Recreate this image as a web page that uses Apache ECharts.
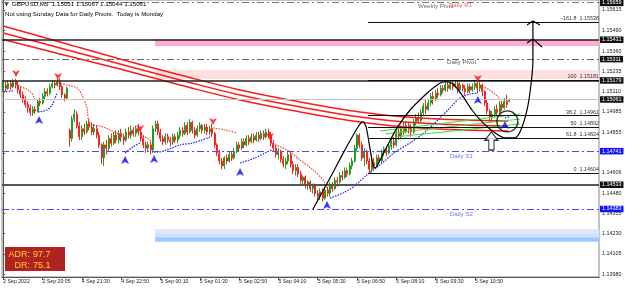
<!DOCTYPE html>
<html><head><meta charset="utf-8">
<script src="https://cdn.jsdelivr.net/npm/echarts@6/dist/echarts.min.js"></script>
<style>html,body{margin:0;padding:0;background:#fff}#c{width:625px;height:289px}</style>
</head><body><div id="c"></div>
<script>
// ---------------- data ----------------
const symbolName = 'GBPUSD,M5';
const tickLabels = ['2 Sep 2022','2 Sep 20:05','4 Sep 21:30','4 Sep 22:50','5 Sep 00:10','5 Sep 01:30','5 Sep 02:50','5 Sep 04:10','5 Sep 05:30','5 Sep 06:50','5 Sep 08:10','5 Sep 09:30','5 Sep 10:50'];
const barsPerLabel = 16;
const axisTicks = [1.13980,1.14105,1.14230,1.14355,1.14480,1.14606,1.14730,1.14855,1.14985,1.15110,1.15235,1.15360,1.15490,1.15615];
// [open, close, low, high]
const candles = [
[1.1513,1.1515,1.1511,1.1517],[1.1515,1.1513,1.1511,1.1517],[1.1513,1.1516,1.1512,1.1518],[1.1516,1.1514,1.1512,1.1518],
[1.1514,1.1517,1.1513,1.1519],[1.1517,1.1515,1.1513,1.1519],[1.1515,1.1512,1.1510,1.1517],[1.1512,1.1509,1.1507,1.1514],
[1.1509,1.1506,1.1504,1.1511],[1.1506,1.1503,1.1501,1.1508],[1.1503,1.1501,1.1498,1.1505],[1.1501,1.1498,1.1496,1.1503],
[1.1498,1.1500,1.1496,1.1502],[1.1500,1.1499,1.1497,1.1502],[1.1499,1.1505,1.1498,1.1506],[1.1505,1.1504,1.1502,1.1507],
[1.1504,1.1508,1.1503,1.1510],[1.1508,1.1511,1.1506,1.1513],[1.1511,1.1510,1.1508,1.1513],[1.1510,1.1514,1.1509,1.1516],
[1.1514,1.1516,1.1513,1.1518],[1.1516,1.1515,1.1513,1.1518],[1.1515,1.1517,1.1514,1.1519],[1.1517,1.1514,1.1512,1.1519],
[1.1514,1.1509,1.1507,1.1515],[1.1509,1.1507,1.1505,1.1510],[1.1507,1.1513,1.1506,1.1514],[1.1487,1.1482,1.1477,1.1488],
[1.1482,1.1494,1.1480,1.1496],[1.1494,1.1497,1.1492,1.1500],[1.1497,1.1490,1.1488,1.1499],[1.1490,1.1483,1.1481,1.1492],
[1.1483,1.1488,1.1481,1.1490],[1.1488,1.1486,1.1484,1.1491],[1.1486,1.1491,1.1485,1.1493],[1.1491,1.1489,1.1487,1.1494],
[1.1489,1.1486,1.1484,1.1492],[1.1486,1.1488,1.1484,1.1491],[1.1488,1.1484,1.1482,1.1490],[1.1484,1.1478,1.1476,1.1486],
[1.1478,1.1470,1.1466,1.1479],[1.1470,1.1478,1.1465,1.1480],[1.1478,1.1476,1.1472,1.1481],[1.1476,1.1482,1.1474,1.1484],
[1.1482,1.1479,1.1477,1.1485],[1.1479,1.1484,1.1478,1.1486],[1.1484,1.1481,1.1479,1.1487],[1.1481,1.1485,1.1479,1.1487],
[1.1485,1.1483,1.1480,1.1488],[1.1483,1.1481,1.1478,1.1485],[1.1481,1.1486,1.1480,1.1488],[1.1486,1.1484,1.1482,1.1489],
[1.1484,1.1487,1.1482,1.1490],[1.1487,1.1485,1.1483,1.1489],[1.1485,1.1488,1.1483,1.1490],[1.1488,1.1486,1.1484,1.1491],
[1.1486,1.1482,1.1480,1.1488],[1.1482,1.1478,1.1476,1.1484],[1.1478,1.1476,1.1473,1.1480],[1.1476,1.1478,1.1474,1.1480],
[1.1478,1.1475,1.1472,1.1480],[1.1475,1.1488,1.1473,1.1490],[1.1488,1.1491,1.1486,1.1493],[1.1491,1.1486,1.1484,1.1493],
[1.1486,1.1482,1.1480,1.1488],[1.1482,1.1480,1.1478,1.1484],[1.1480,1.1483,1.1478,1.1485],[1.1483,1.1481,1.1479,1.1485],
[1.1481,1.1480,1.1477,1.1483],[1.1480,1.1483,1.1478,1.1485],[1.1483,1.1481,1.1479,1.1485],[1.1481,1.1484,1.1479,1.1486],
[1.1484,1.1487,1.1482,1.1489],[1.1487,1.1485,1.1483,1.1489],[1.1485,1.1490,1.1484,1.1492],[1.1490,1.1486,1.1484,1.1492],
[1.1486,1.1492,1.1485,1.1494],[1.1492,1.1487,1.1485,1.1493],[1.1487,1.1484,1.1482,1.1489],[1.1484,1.1488,1.1483,1.1490],
[1.1488,1.1490,1.1486,1.1492],[1.1490,1.1487,1.1485,1.1491],[1.1487,1.1489,1.1485,1.1491],[1.1489,1.1486,1.1484,1.1491],
[1.1486,1.1488,1.1484,1.1490],[1.1488,1.1485,1.1483,1.1491],[1.1485,1.1478,1.1476,1.1486],[1.1478,1.1473,1.1471,1.1479],
[1.1473,1.1468,1.1466,1.1475],[1.1468,1.1465,1.1463,1.1470],[1.1465,1.1470,1.1463,1.1471],[1.1470,1.1468,1.1466,1.1472],
[1.1468,1.1472,1.1467,1.1474],[1.1472,1.1470,1.1468,1.1474],[1.1470,1.1474,1.1469,1.1476],[1.1474,1.1478,1.1473,1.1480],
[1.1478,1.1476,1.1474,1.1480],[1.1476,1.1480,1.1475,1.1482],[1.1480,1.1478,1.1476,1.1482],[1.1478,1.1482,1.1477,1.1484],
[1.1482,1.1480,1.1478,1.1484],[1.1480,1.1483,1.1479,1.1485],[1.1483,1.1481,1.1479,1.1485],[1.1481,1.1484,1.1480,1.1486],
[1.1484,1.1482,1.1480,1.1486],[1.1482,1.1485,1.1481,1.1487],[1.1485,1.1483,1.1481,1.1487],[1.1483,1.1486,1.1482,1.1488],
[1.1486,1.1484,1.1482,1.1488],[1.1484,1.1479,1.1477,1.1486],[1.1479,1.1476,1.1474,1.1481],[1.1476,1.1472,1.1470,1.1478],
[1.1472,1.1474,1.1469,1.1476],[1.1474,1.1469,1.1467,1.1475],[1.1469,1.1466,1.1464,1.1471],[1.1466,1.1468,1.1463,1.1470],
[1.1468,1.1472,1.1466,1.1474],[1.1472,1.1466,1.1464,1.1474],[1.1466,1.1462,1.1460,1.1468],[1.1462,1.1464,1.1459,1.1466],
[1.1464,1.1460,1.1458,1.1466],[1.1460,1.1456,1.1454,1.1462],[1.1456,1.1458,1.1453,1.1459],[1.1458,1.1453,1.1451,1.1459],
[1.1453,1.1455,1.1450,1.1456],[1.1455,1.1451,1.1449,1.1456],[1.1451,1.1453,1.1448,1.1454],[1.1453,1.1448,1.1446,1.1454],
[1.1448,1.1446,1.1443,1.1450],[1.1446,1.1449,1.1444,1.1451],[1.1449,1.1445,1.1443,1.1451],[1.1445,1.1450,1.1444,1.1452],
[1.1450,1.1448,1.1446,1.1452],[1.1448,1.1453,1.1446,1.1455],[1.1453,1.1451,1.1449,1.1455],[1.1451,1.1456,1.1450,1.1458],
[1.1456,1.1455,1.1452,1.1458],[1.1455,1.1459,1.1454,1.1461],[1.1459,1.1458,1.1456,1.1462],[1.1458,1.1462,1.1457,1.1464],
[1.1462,1.1460,1.1458,1.1464],[1.1460,1.1465,1.1459,1.1467],[1.1465,1.1468,1.1463,1.1470],[1.1468,1.1476,1.1467,1.1478],
[1.1476,1.1484,1.1474,1.1485],[1.1484,1.1478,1.1476,1.1485],[1.1478,1.1470,1.1468,1.1480],[1.1470,1.1474,1.1465,1.1476],
[1.1474,1.1468,1.1466,1.1475],[1.1468,1.1463,1.14604,1.1470],[1.1463,1.1467,1.1461,1.1469],[1.1467,1.1465,1.1463,1.1470],
[1.1465,1.1470,1.1464,1.1472],[1.1470,1.1468,1.1466,1.1472],[1.1468,1.1473,1.1467,1.1475],[1.1473,1.1475,1.1471,1.1477],
[1.1475,1.1473,1.1471,1.1477],[1.1473,1.1477,1.1472,1.1479],[1.1477,1.1480,1.1475,1.1482],[1.1480,1.1478,1.1476,1.1483],
[1.1478,1.1485,1.1477,1.1487],[1.1485,1.1483,1.1481,1.1488],[1.1483,1.1488,1.1482,1.1490],[1.1488,1.1486,1.1484,1.1492],
[1.1486,1.1490,1.1485,1.1493],[1.1490,1.1488,1.1485,1.1492],[1.1488,1.1486,1.1483,1.1491],[1.1486,1.1492,1.1485,1.1494],
[1.1492,1.1495,1.1490,1.1497],[1.1495,1.1493,1.1491,1.1498],[1.1493,1.1498,1.1492,1.1500],[1.1498,1.1502,1.1496,1.1504],
[1.1502,1.1500,1.1497,1.1506],[1.1500,1.1504,1.1499,1.1506],[1.1504,1.1508,1.1502,1.1510],[1.1508,1.1506,1.1503,1.1511],
[1.1506,1.1510,1.1505,1.1512],[1.1510,1.1509,1.1507,1.1513],[1.1509,1.1513,1.1508,1.1515],[1.1513,1.1512,1.1510,1.1515],
[1.1512,1.1515,1.1511,1.1517],[1.1515,1.1513,1.1511,1.1517],[1.1513,1.1516,1.1512,1.1518],[1.1516,1.1514,1.1512,1.1517],
[1.1514,1.1516,1.1513,1.1518],[1.1516,1.1512,1.1510,1.15181],[1.1512,1.1515,1.1510,1.1517],[1.1515,1.1513,1.1511,1.1516],
[1.1513,1.1511,1.1509,1.1515],[1.1511,1.1514,1.1510,1.1516],[1.1514,1.1512,1.1510,1.1516],[1.1512,1.1514,1.1511,1.1516],
[1.1514,1.1516,1.1512,1.1518],[1.1516,1.1513,1.1510,1.1518],[1.1513,1.1515,1.1511,1.1517],[1.1515,1.1511,1.1508,1.1516],
[1.1511,1.1504,1.1502,1.1512],[1.1504,1.1499,1.1497,1.1506],[1.1499,1.1495,1.1492,1.1500],[1.1495,1.1497,1.1492,1.1499],
[1.1497,1.1500,1.1495,1.1502],[1.1500,1.1498,1.1496,1.1503],[1.1498,1.1503,1.1497,1.1505],[1.1503,1.1501,1.1499,1.1505],
[1.1501,1.1505,1.1500,1.1507],[1.1505,1.1503,1.1501,1.1509],[1.15051,1.15061,1.15044,1.15067]
];
// moving-average envelope (bar index, price)
const maUpper  = [[0,1.15516],[23.1,1.15417],[47.5,1.15312],[72,1.15213],[96.4,1.15120],[120.8,1.15046],[145.2,1.14984],[169.6,1.14947],[205.5,1.14928]];
const maMiddle = [[0,1.15473],[23.1,1.15380],[47.5,1.15281],[72,1.15182],[96.4,1.15089],[120.8,1.15015],[145.2,1.14953],[169.6,1.14916],[205.5,1.14897]];
const maLower  = [[0,1.15432],[23.1,1.15343],[47.5,1.15250],[72,1.15151],[96.4,1.15058],[120.8,1.14984],[145.2,1.14922],[169.6,1.14885],[205.5,1.14866]];
// trailing stop indicator segments
const trailDown = [
 [[5.2,1.1518],[6,1.15151],[10.1,1.15120],[12.1,1.15089],[12.9,1.15058]],
 [[22.3,1.15163],[26,1.15151],[30,1.15132],[32,1.15089],[34.1,1.15008],[34.9,1.14922],[36.5,1.14903],[39.4,1.14897],[43.5,1.14872],[47.5,1.14841]],
 [[55.7,1.14841],[58.5,1.14823],[60.6,1.14798]],
 [[85.4,1.14885],[90.3,1.14872],[95.1,1.14854]],
 [[108.6,1.14792],[115.5,1.14749],[120.8,1.14687],[126.1,1.14625],[130.1,1.14563],[132.2,1.14501]],
 [[194,1.15151],[198,1.15120],[201.4,1.15077],[203.4,1.15027]]
];
const trailUp = [
 [[0,1.15108],[4,1.15114]],
 [[14.2,1.14984],[17.8,1.14996],[19.9,1.15027],[21.1,1.15070],[21.9,1.15101]],
 [[49.6,1.14730],[52.8,1.14767],[55.7,1.14792]],
 [[61.4,1.14736],[62.6,1.14736],[66.7,1.14749],[72,1.14780],[77.2,1.14792],[84.2,1.14829]],
 [[96.4,1.14668],[102.5,1.14699],[107.4,1.14736],[109.4,1.14749]],
 [[133,1.14451],[138.3,1.14482],[142.4,1.14519],[148,1.14594],[153.4,1.14656],[159.5,1.14736],[165.6,1.14792],[171.7,1.14860],[177.8,1.14947],[181.8,1.15008],[185.9,1.15070],[190,1.15095],[193.2,1.15101]],
 [[204.2,1.14947],[206,1.14953]]
];
const buySignals  = [[14.6,1.14978],[49.6,1.14730],[61.4,1.14736],[96.4,1.14656],[131.8,1.14451],[193.2,1.15101],[204.2,1.14947]];
const sellSignals = [[5.2,1.15182],[22.3,1.15163],[55.7,1.14841],[85.4,1.14885],[108.6,1.14792],[193.2,1.15151]];
const channelLines = [
 [[153.4,1.14866],[210.3,1.14971]],
 [[155.4,1.14848],[210.3,1.14940]],
 [[159.5,1.14829],[210.3,1.14909]]
];
const guideLine = [[149.3,1.14718],[167.6,1.14854]];
// hand-drawn annotation (bar index, price)
const sketchPath = [[126.1,1.14383],[133,1.14575],[139.1,1.14749],[144.4,1.14891],[146.4,1.14922],[147.7,1.14891],[148.9,1.14792],[150.5,1.14656],[151.3,1.14637],[155.4,1.14749],[160.3,1.14885],[165.6,1.14996],[171.7,1.15089],[176.6,1.15151],[179.8,1.15171],[183.1,1.15157],[186.7,1.15089],[190.8,1.14996],[195.3,1.14916],[200.2,1.14854],[204.2,1.14823],[208.3,1.14823],[210.7,1.14872],[213.2,1.14996],[214.8,1.15151],[215.6,1.15306],[215.6,1.15547]];
const sketchHead1 = [[213.2,1.15522],[215.6,1.15547],[218.5,1.15522]];
const sketchHead2 = [[213.2,1.15411],[215.6,1.15436],[219.3,1.15386]];
const sketchCircle = [205.2,1.14925];
const sketchArrow = [198.7,1.14804];
// levels
const weeklyPivot = 1.15664;
const dailyR1 = 1.15659;
const dailyPivot = 1.15311;
const dailyS1 = 1.14741;
const dailyS2 = 1.14383;
const srLevels = [1.15431, 1.15179];
const supportLevel = 1.14533;
const currentPrice = 1.15061;
const fibStartBar = 148.5;
const fibLevels = [['-161.8',1.15538],['100',1.15181],['38.2',1.14961],['50',1.14892],['61.8',1.14824],['0',1.14604]];
const zoneStartBar = 61.8;
const pinkZone = [1.15431, 1.15392];
const lightPinkZone = [1.15244, 1.15188];
const blueZones = [[1.14259,1.14233],[1.14233,1.14208],[1.14208,1.14181]];
const darkTags = [1.15659, 1.15431, 1.15311, 1.15179, 1.15061, 1.14533];
const blueTags = [1.14741, 1.14383];
const adrValue = 97.7, drValue = 75.1;

// ---------------- chart ----------------
const N = 243;
const FONT = '"Liberation Sans", Arial, sans-serif';
const cats = Array.from({length: N}, (_, i) => String(i));
const showTick = (i) => i % barsPerLabel === 0 && i / barsPerLabel < tickLabels.length;
const DASHDOT = [7, 3, 2, 3];
const last = candles[candles.length - 1];
const X0 = -0.5, X1 = N - 0.5;

function ov(extra) {
  return Object.assign({type: 'line', xAxisIndex: 1, yAxisIndex: 0, showSymbol: false, symbol: 'none', silent: true, animation: false}, extra);
}
const series = [];

// zones
const zoneArea = [
  [{xAxis: zoneStartBar, yAxis: pinkZone[0], itemStyle: {color: '#ffa9d3'}}, {xAxis: X1, yAxis: pinkZone[1]}],
  [{xAxis: zoneStartBar, yAxis: lightPinkZone[0], itemStyle: {color: '#ffdfdf'}}, {xAxis: X1, yAxis: lightPinkZone[1]}]
];
const blueCols = ['#e6e6fb', '#c9e5ff', '#9bcbff'];
blueZones.forEach((z, k) => zoneArea.push([{xAxis: zoneStartBar, yAxis: z[0], itemStyle: {color: blueCols[k]}}, {xAxis: X1, yAxis: z[1]}]));

// horizontal levels
const hline = (v, lineStyle, label, from) => [
  {xAxis: from === undefined ? X0 : from, yAxis: v, lineStyle: lineStyle, label: label || {show: false}},
  {xAxis: X1, yAxis: v}
];
const lines = [];
lines.push(hline(weeklyPivot, {color: '#777', width: 1, type: DASHDOT}));
lines.push(hline(dailyPivot, {color: '#666', width: 1, type: DASHDOT}));
lines.push(hline(dailyS1, {color: '#4a4aff', width: 1, type: DASHDOT}));
lines.push(hline(dailyS2, {color: '#4a4aff', width: 1, type: DASHDOT}));
lines.push(hline(currentPrice, {color: '#c4c4c4', width: 1, type: 'solid'}));
srLevels.forEach(v => lines.push(hline(v, {color: '#222', width: 1.6, type: 'solid'})));
lines.push(hline(supportLevel, {color: '#555', width: 2, type: 'solid'}));
fibLevels.forEach(([name, v]) => lines.push(hline(v, {color: '#111', width: 1, type: 'solid'},
  {show: true, position: 'insideEndTop', formatter: name + '  ' + v.toFixed(5), fontSize: 5.4, fontFamily: FONT, color: '#333', distance: [0, 1]}, fibStartBar)));

series.push(ov({name: 'levels', data: [], z: 1,
  markArea: {silent: true, data: zoneArea},
  markLine: {silent: true, symbol: ['none', 'none'], animation: false, data: lines}
}));

// price tags on the axis
const tagLabel = (bg, v) => ({show: true, position: 'end', distance: 1, formatter: v.toFixed(5),
  backgroundColor: bg, color: '#fff', fontSize: 5.4, fontFamily: FONT, padding: [1, 2, 0.5, 2]});
const tags = [];
darkTags.forEach(v => tags.push(hline(v, {color: 'rgba(0,0,0,0)', width: 0.1}, tagLabel('#111', v), X1 - 0.2)));
blueTags.forEach(v => tags.push(hline(v, {color: 'rgba(0,0,0,0)', width: 0.1}, tagLabel('#1010ff', v), X1 - 0.2)));
series.push(ov({name: 'tags', data: [], z: 20,
  markLine: {silent: true, symbol: ['none', 'none'], animation: false, data: tags}}));

// candles
series.push({type: 'candlestick', xAxisIndex: 0, yAxisIndex: 0, data: candles, barWidth: 1.5, z: 3, animation: false,
  itemStyle: {color: '#1f9f1f', color0: '#ff2020', borderColor: '#1f9f1f', borderColor0: '#ff2020', borderWidth: 1}});

// moving averages
[maUpper, maMiddle, maLower].forEach(d => series.push(ov({data: d, smooth: 0.4, z: 4, lineStyle: {color: '#ff1a1a', width: 1.5}})));
// trailing lines
trailDown.forEach(d => series.push(ov({data: d, smooth: 0.3, z: 4, lineStyle: {color: '#ff2a2a', width: 1.1, type: [1.5, 1.2]}})));
trailUp.forEach(d => series.push(ov({data: d, smooth: 0.3, z: 4, lineStyle: {color: '#2a2aff', width: 1.3, type: [1.5, 1.2]}})));
// channel lines
channelLines.forEach(d => series.push(ov({data: d, z: 4, lineStyle: {color: '#3ddc3d', width: 1}})));
series.push(ov({data: guideLine, z: 4, lineStyle: {color: '#aaa', width: 1, type: [1.5, 1.5]}}));
// signals
series.push({type: 'scatter', xAxisIndex: 1, yAxisIndex: 0, data: buySignals, symbol: 'arrow', symbolSize: [6, 8], symbolOffset: [0, 3], z: 6, silent: true, animation: false, itemStyle: {color: '#0a0aff'}});
series.push({type: 'scatter', xAxisIndex: 1, yAxisIndex: 0, data: sellSignals, symbol: 'arrow', symbolRotate: 180, symbolSize: [6, 7], symbolOffset: [0, -3], z: 6, silent: true, animation: false, itemStyle: {color: '#ff1010'}});
// sketch
series.push(ov({data: sketchPath, smooth: 0.25, z: 7, lineStyle: {color: '#000', width: 1.2}}));
series.push(ov({data: sketchHead1, z: 7, lineStyle: {color: '#000', width: 1.2}}));
series.push(ov({data: sketchHead2, z: 7, lineStyle: {color: '#000', width: 1.2}}));
series.push({type: 'scatter', xAxisIndex: 1, yAxisIndex: 0, data: [sketchCircle], symbol: 'circle', symbolSize: 21, z: 7, silent: true, animation: false,
  itemStyle: {color: 'rgba(0,0,0,0)', borderColor: '#000', borderWidth: 1.3}});
series.push({type: 'scatter', xAxisIndex: 1, yAxisIndex: 0, data: [sketchArrow], symbol: 'path://M5,0 L10,6 L7,6 L7,13 L3,13 L3,6 L0,6 Z', symbolSize: [13, 18], z: 7, silent: true, animation: false,
  itemStyle: {color: '#fff', borderColor: '#000', borderWidth: 1.2}});
// level captions
const cap = (x, y, text, color) => ({value: [x, y], label: {show: true, formatter: text, color: color}});
series.push({type: 'scatter', xAxisIndex: 1, yAxisIndex: 0, symbolSize: 0, z: 8, silent: true, animation: false,
  label: {show: true, position: 'right', distance: 0, fontSize: 6.2, fontFamily: FONT},
  data: [
    cap(168.8, weeklyPivot - 0.00024, 'Weekly Pivot', '#444'),
    cap(181.4, dailyR1 - 0.00013, 'Daily R1', '#ff3030'),
    cap(180.6, dailyPivot - 0.00020, 'Daily Pivot', '#333'),
    cap(181.8, dailyS1 - 0.00030, 'Daily S1', '#4a4aff'),
    cap(181.8, dailyS2 - 0.00031, 'Daily S2', '#4a4aff')
  ]});

const option = {
  animation: false,
  backgroundColor: '#fff',
  grid: {left: 2, right: 26, top: 0, bottom: 12, show: true, borderColor: '#8a8a8a', borderWidth: 1, backgroundColor: '#fff'},
  xAxis: [
    {type: 'category', data: cats, boundaryGap: true, gridIndex: 0,
     axisLine: {show: true, lineStyle: {color: '#555', width: 1}},
     axisTick: {show: true, alignWithLabel: true, interval: (i) => showTick(i), length: 3, lineStyle: {color: '#555'}},
     axisLabel: {interval: (i) => showTick(i), formatter: (v, i) => tickLabels[i / barsPerLabel] || '', align: 'left',
       fontSize: 5.2, fontFamily: FONT, color: '#222', margin: 2, hideOverlap: false},
     splitLine: {show: false}},
    {type: 'value', min: X0, max: X1, show: false, gridIndex: 0}
  ],
  yAxis: {type: 'value', position: 'right', min: 1.13962, max: 1.15677,
    axisLine: {show: true, lineStyle: {color: '#555'}},
    axisTick: {show: true, length: 2, customValues: axisTicks, lineStyle: {color: '#555'}},
    axisLabel: {customValues: axisTicks, formatter: v => (+v).toFixed(5), fontSize: 5.4, fontFamily: FONT, color: '#222', margin: 3},
    splitLine: {show: false}},
  graphic: [
    {type: 'text', x: 4, y: 2, z: 100, style: {text: '▼', font: '5px ' + FONT, fill: '#000'}},
    {type: 'text', x: 12, y: 1, z: 100, style: {text: symbolName + '  ' + [last[0], last[3], last[2], last[1]].map(v => v.toFixed(5)).join(' '), font: '6.2px ' + FONT, fill: '#000'}},
    {type: 'text', x: 5, y: 11, z: 100, style: {text: 'Not using Sunday Data for Daily Pivots.  Today is Monday', font: '6.2px ' + FONT, fill: '#000'}},
    {type: 'rect', z: 100, shape: {x: 5, y: 247, width: 60, height: 24}, style: {fill: '#b22222'}},
    {type: 'text', z: 101, x: 30, y: 250, style: {text: 'ADR:', font: '9px ' + FONT, fill: '#ffd21a', align: 'right'}},
    {type: 'text', z: 101, x: 33, y: 250, style: {text: adrValue.toFixed(1), font: '9px ' + FONT, fill: '#ffd21a'}},
    {type: 'text', z: 101, x: 30, y: 261, style: {text: 'DR:', font: '9px ' + FONT, fill: '#ffd21a', align: 'right'}},
    {type: 'text', z: 101, x: 33, y: 261, style: {text: drValue.toFixed(1), font: '9px ' + FONT, fill: '#ffd21a'}}
  ],
  series: series
};
const chart = echarts.init(document.getElementById('c'), null, {renderer: 'canvas'});
chart.setOption(option);
</script>
</body></html>
